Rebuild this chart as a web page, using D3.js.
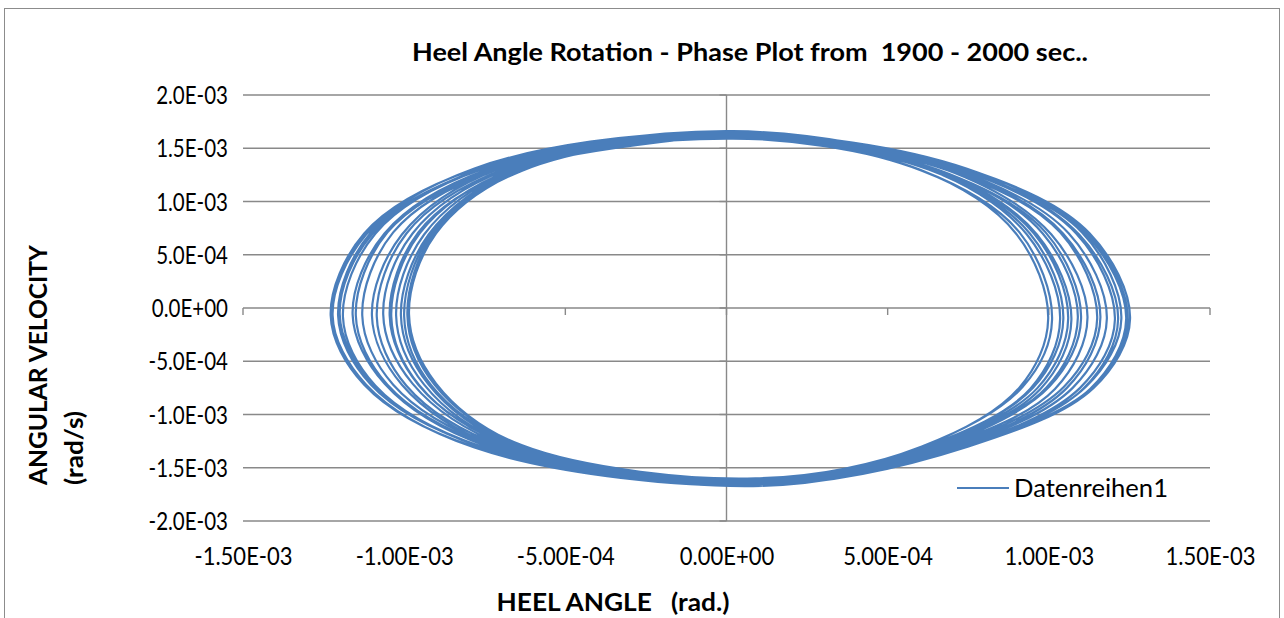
<!DOCTYPE html>
<html>
<head>
<meta charset="utf-8">
<script src="https://cdn.jsdelivr.net/npm/d3@7/dist/d3.min.js"></script>
<style>
  html, body { margin: 0; padding: 0; background: #fff; }
  svg { display: block; }
  text { font-family: Lato, "Open Sans", sans-serif; fill: #000; }
</style>
</head>
<body>
<svg id="chart" width="1284" height="618"></svg>
<script>
// Heel angle (rad) and angular velocity (rad/s), 1900 - 2000 s.
// One row per roll cycle, starting at the crest of the velocity.
const heelAngle = [
  -0.020e-3, 0.751e-3, 1.127e-3, 1.252e-3, 1.139e-3, 0.751e-3, 0.110e-3, -0.786e-3, -1.124e-3, -1.228e-3, -1.124e-3, -0.786e-3,
   0.000e-3, 0.744e-3, 1.116e-3, 1.240e-3, 1.128e-3, 0.744e-3, 0.090e-3, -0.771e-3, -1.103e-3, -1.205e-3, -1.103e-3, -0.771e-3,
  -0.030e-3, 0.723e-3, 1.085e-3, 1.205e-3, 1.097e-3, 0.723e-3, 0.120e-3, -0.742e-3, -1.061e-3, -1.160e-3, -1.061e-3, -0.742e-3,
   0.010e-3, 0.690e-3, 1.035e-3, 1.150e-3, 1.047e-3, 0.690e-3, 0.080e-3, -0.704e-3, -1.007e-3, -1.100e-3, -1.007e-3, -0.704e-3,
  -0.010e-3, 0.654e-3, 0.981e-3, 1.090e-3, 0.992e-3, 0.654e-3, 0.100e-3, -0.666e-3, -0.952e-3, -1.040e-3, -0.952e-3, -0.666e-3,
   0.020e-3, 0.621e-3, 0.932e-3, 1.035e-3, 0.942e-3, 0.621e-3, 0.130e-3, -0.634e-3, -0.906e-3, -0.990e-3, -0.906e-3, -0.634e-3,
  -0.020e-3, 0.599e-3, 0.898e-3, 0.998e-3, 0.908e-3, 0.599e-3, 0.090e-3, -0.630e-3, -0.901e-3, -0.985e-3, -0.901e-3, -0.630e-3,
   0.000e-3, 0.606e-3, 0.909e-3, 1.010e-3, 0.919e-3, 0.606e-3, 0.110e-3, -0.656e-3, -0.938e-3, -1.025e-3, -0.938e-3, -0.656e-3,
  -0.030e-3, 0.636e-3, 0.954e-3, 1.060e-3, 0.965e-3, 0.636e-3, 0.070e-3, -0.694e-3, -0.993e-3, -1.085e-3, -0.993e-3, -0.694e-3,
   0.010e-3, 0.672e-3, 1.008e-3, 1.120e-3, 1.019e-3, 0.672e-3, 0.120e-3, -0.736e-3, -1.052e-3, -1.150e-3, -1.052e-3, -0.736e-3,
  -0.010e-3, 0.708e-3, 1.062e-3, 1.180e-3, 1.074e-3, 0.708e-3, 0.100e-3, -0.768e-3, -1.098e-3, -1.200e-3, -1.098e-3, -0.768e-3,
   0.020e-3, 0.735e-3, 1.103e-3, 1.225e-3, 1.115e-3, 0.735e-3, 0.080e-3, -0.782e-3, -1.118e-3, -1.222e-3, -1.118e-3, -0.782e-3,
  -0.020e-3, 0.747e-3, 1.121e-3, 1.245e-3, 1.133e-3, 0.747e-3, 0.110e-3, -0.762e-3, -1.089e-3, -1.190e-3, -1.089e-3, -0.762e-3,
   0.000e-3, 0.729e-3, 1.094e-3, 1.215e-3, 1.106e-3, 0.729e-3, 0.090e-3, -0.723e-3, -1.034e-3, -1.130e-3, -1.034e-3, -0.723e-3,
  -0.010e-3, 0.696e-3, 1.044e-3, 1.160e-3, 1.056e-3, 0.696e-3, 0.120e-3, -0.682e-3, -0.974e-3, -1.065e-3, -0.974e-3, -0.682e-3,
   0.020e-3, 0.660e-3, 0.990e-3, 1.100e-3, 1.001e-3, 0.660e-3, 0.100e-3, -0.646e-3, -0.924e-3, -1.010e-3, -0.924e-3, -0.646e-3,
  -0.020e-3, 0.627e-3, 0.941e-3, 1.045e-3, 0.951e-3, 0.627e-3, 0.080e-3, -0.640e-3, -0.915e-3, -1.000e-3, -0.915e-3, -0.640e-3,
   0.010e-3, 0.642e-3, 0.963e-3, 1.070e-3, 0.974e-3, 0.642e-3, 0.110e-3, -0.669e-3, -0.956e-3, -1.045e-3, -0.956e-3, -0.669e-3,
  -0.010e-3
];
const angularVelocity = [
  1.655e-3, 1.30e-3, 0.70e-3, -0.10e-3, -0.75e-3, -1.30e-3, -1.665e-3, -1.30e-3, -0.72e-3, -0.07e-3, 0.70e-3, 1.30e-3,
  1.645e-3, 1.31e-3, 0.69e-3, -0.10e-3, -0.76e-3, -1.30e-3, -1.660e-3, -1.29e-3, -0.72e-3, -0.07e-3, 0.71e-3, 1.29e-3,
  1.630e-3, 1.30e-3, 0.70e-3, -0.11e-3, -0.75e-3, -1.31e-3, -1.645e-3, -1.30e-3, -0.71e-3, -0.06e-3, 0.70e-3, 1.30e-3,
  1.615e-3, 1.29e-3, 0.71e-3, -0.10e-3, -0.74e-3, -1.30e-3, -1.630e-3, -1.31e-3, -0.72e-3, -0.07e-3, 0.69e-3, 1.31e-3,
  1.600e-3, 1.30e-3, 0.70e-3, -0.09e-3, -0.75e-3, -1.29e-3, -1.615e-3, -1.30e-3, -0.73e-3, -0.08e-3, 0.70e-3, 1.30e-3,
  1.590e-3, 1.31e-3, 0.69e-3, -0.10e-3, -0.76e-3, -1.30e-3, -1.605e-3, -1.29e-3, -0.72e-3, -0.07e-3, 0.71e-3, 1.29e-3,
  1.595e-3, 1.30e-3, 0.70e-3, -0.10e-3, -0.75e-3, -1.31e-3, -1.600e-3, -1.30e-3, -0.71e-3, -0.06e-3, 0.70e-3, 1.30e-3,
  1.610e-3, 1.29e-3, 0.71e-3, -0.11e-3, -0.74e-3, -1.30e-3, -1.610e-3, -1.31e-3, -0.72e-3, -0.07e-3, 0.69e-3, 1.31e-3,
  1.625e-3, 1.30e-3, 0.70e-3, -0.10e-3, -0.75e-3, -1.29e-3, -1.625e-3, -1.30e-3, -0.73e-3, -0.08e-3, 0.70e-3, 1.30e-3,
  1.640e-3, 1.31e-3, 0.69e-3, -0.09e-3, -0.76e-3, -1.30e-3, -1.640e-3, -1.29e-3, -0.72e-3, -0.07e-3, 0.71e-3, 1.29e-3,
  1.650e-3, 1.30e-3, 0.70e-3, -0.10e-3, -0.75e-3, -1.31e-3, -1.655e-3, -1.30e-3, -0.71e-3, -0.06e-3, 0.70e-3, 1.30e-3,
  1.660e-3, 1.29e-3, 0.71e-3, -0.10e-3, -0.74e-3, -1.30e-3, -1.665e-3, -1.31e-3, -0.72e-3, -0.07e-3, 0.69e-3, 1.31e-3,
  1.650e-3, 1.30e-3, 0.70e-3, -0.11e-3, -0.75e-3, -1.29e-3, -1.670e-3, -1.30e-3, -0.73e-3, -0.08e-3, 0.70e-3, 1.30e-3,
  1.635e-3, 1.31e-3, 0.69e-3, -0.10e-3, -0.76e-3, -1.30e-3, -1.655e-3, -1.29e-3, -0.72e-3, -0.07e-3, 0.71e-3, 1.29e-3,
  1.620e-3, 1.30e-3, 0.70e-3, -0.09e-3, -0.75e-3, -1.31e-3, -1.640e-3, -1.30e-3, -0.71e-3, -0.06e-3, 0.70e-3, 1.30e-3,
  1.605e-3, 1.29e-3, 0.71e-3, -0.10e-3, -0.74e-3, -1.30e-3, -1.625e-3, -1.31e-3, -0.72e-3, -0.07e-3, 0.69e-3, 1.31e-3,
  1.595e-3, 1.30e-3, 0.70e-3, -0.10e-3, -0.75e-3, -1.29e-3, -1.610e-3, -1.30e-3, -0.73e-3, -0.08e-3, 0.70e-3, 1.30e-3,
  1.605e-3, 1.31e-3, 0.69e-3, -0.11e-3, -0.76e-3, -1.30e-3, -1.615e-3, -1.29e-3, -0.72e-3, -0.07e-3, 0.71e-3, 1.29e-3,
  1.620e-3
];

const xTicks = [-1.5e-3, -1.0e-3, -0.5e-3, 0, 0.5e-3, 1.0e-3, 1.5e-3];
const yTicks = [-2.0e-3, -1.5e-3, -1.0e-3, -0.5e-3, 0, 0.5e-3, 1.0e-3, 1.5e-3, 2.0e-3];

const titleText = "Heel Angle Rotation - Phase Plot from  1900 - 2000 sec..";
const xTitle = "HEEL ANGLE   (rad.)";
const yTitle = ["ANGULAR VELOCITY", "(rad/s)"];
const seriesName = "Datenreihen1";

const svg = d3.select("#chart");
const plot = { left: 243, right: 1210, top: 95, bottom: 521 };
const gridColor = "#898989";
const lineColor = "#4a7ebb";

// Excel-style scientific format: 1.50E-03
function sci(digits) {
  return v => {
    const s = (Math.abs(v) < 1e-12 ? 0 : v).toExponential(digits);
    const [m, e] = s.split("e");
    const sign = e[0] === "-" ? "-" : "+";
    const ex = e.replace(/^[+-]/, "").padStart(2, "0");
    return m + "E" + sign + ex;
  };
}

// narrow tall glyphs: squeeze each text horizontally by a factor
function squeeze(sel, k) {
  sel.each(function () {
    const w = this.getComputedTextLength();
    d3.select(this).attr("textLength", w * k).attr("lengthAdjust", "spacingAndGlyphs");
  });
}

const x = d3.scaleLinear().domain([-1.5e-3, 1.5e-3]).range([plot.left, plot.right]);
const y = d3.scaleLinear().domain([-2.0e-3, 2.0e-3]).range([plot.bottom, plot.top]);

// chart frame
svg.append("rect")
  .attr("x", 4.5).attr("y", 8.5)
  .attr("width", 1275).attr("height", 700)
  .attr("fill", "#fff").attr("stroke", "#8c8c8c").attr("stroke-width", 1);

// horizontal gridlines
svg.append("g").selectAll("line").data(yTicks).join("line")
  .attr("x1", plot.left).attr("x2", plot.right)
  .attr("y1", d => y(d)).attr("y2", d => y(d))
  .attr("stroke", gridColor).attr("stroke-width", 1.4);

// zero axes crossing in the middle of the plot
svg.append("line")
  .attr("x1", x(0)).attr("x2", x(0))
  .attr("y1", plot.top).attr("y2", plot.bottom)
  .attr("stroke", gridColor).attr("stroke-width", 1.4);

svg.append("g").selectAll("line").data(xTicks).join("line")
  .attr("x1", d => x(d)).attr("x2", d => x(d))
  .attr("y1", y(0)).attr("y2", y(0) + 7)
  .attr("stroke", gridColor).attr("stroke-width", 1.4);

svg.append("g").selectAll("line").data(yTicks).join("line")
  .attr("x1", x(0) - 7).attr("x2", x(0))
  .attr("y1", d => y(d)).attr("y2", d => y(d))
  .attr("stroke", gridColor).attr("stroke-width", 1.4);

// tick labels at the plot edges
const yAxis = svg.append("g")
  .attr("transform", `translate(${plot.left},0)`)
  .call(d3.axisLeft(y).tickValues(yTicks).tickFormat(sci(1)).tickSize(0).tickPadding(15));
yAxis.select(".domain").remove();
yAxis.selectAll("text").attr("font-family", "Lato, sans-serif").attr("font-size", 25).attr("fill", "#000").attr("dy", "0.34em");
squeeze(yAxis.selectAll("text"), 0.82);

const xAxis = svg.append("g")
  .attr("transform", `translate(0,${plot.bottom})`)
  .call(d3.axisBottom(x).tickValues(xTicks).tickFormat(sci(2)).tickSize(0).tickPadding(26));
xAxis.select(".domain").remove();
xAxis.selectAll("text").attr("font-family", "Lato, sans-serif").attr("font-size", 25).attr("fill", "#000");
squeeze(xAxis.selectAll("text"), 0.88);

// phase trajectory
const pts = heelAngle.map((h, i) => [h, angularVelocity[i]]);
const line = d3.line()
  .x(d => x(d[0]))
  .y(d => y(d[1]))
  .curve(d3.curveCatmullRom.alpha(0.5));

svg.append("path")
  .datum(pts)
  .attr("d", line)
  .attr("fill", "none")
  .attr("stroke", lineColor)
  .attr("stroke-width", 2.2)
  .attr("stroke-linejoin", "round");

// title
svg.append("text")
  .attr("x", 750).attr("y", 61)
  .attr("text-anchor", "middle")
  .attr("font-weight", "bold")
  .attr("font-size", 25)
  .attr("textLength", 676).attr("lengthAdjust", "spacingAndGlyphs")
  .style("white-space", "pre")
  .text(titleText);

// axis titles
svg.append("text")
  .attr("x", 613).attr("y", 611)
  .attr("text-anchor", "middle")
  .attr("font-weight", "bold")
  .attr("font-size", 24)
  .attr("textLength", 233).attr("lengthAdjust", "spacingAndGlyphs")
  .style("white-space", "pre")
  .text(xTitle);

const yTitleLen = [240, 74];
yTitle.forEach((t, i) => {
  svg.append("text")
    .attr("transform", `translate(${47 + i * 36},485) rotate(-90)`)
    .attr("text-anchor", "start")
    .attr("font-weight", "bold")
    .attr("font-size", 25)
    .attr("textLength", yTitleLen[i]).attr("lengthAdjust", "spacingAndGlyphs")
    .text(t);
});

// legend
svg.append("line")
  .attr("x1", 957).attr("x2", 1009)
  .attr("y1", 488).attr("y2", 488)
  .attr("stroke", lineColor).attr("stroke-width", 2.2);
svg.append("text")
  .attr("x", 1014).attr("y", 497)
  .attr("font-size", 25)
  .attr("textLength", 154).attr("lengthAdjust", "spacingAndGlyphs")
  .text(seriesName);
</script>
</body>
</html>
